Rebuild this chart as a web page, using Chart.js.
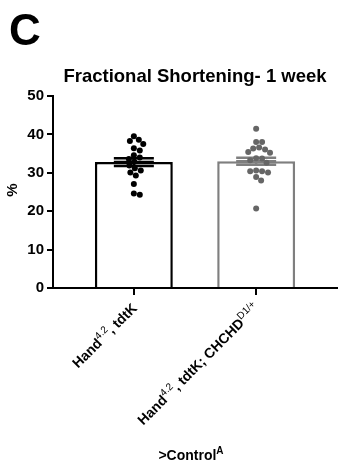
<!DOCTYPE html>
<html>
<head>
<meta charset="utf-8">
<script src="https://cdn.jsdelivr.net/npm/chart.js@4"></script>
<style>
  html, body { margin: 0; padding: 0; background: #fff; }
  canvas { display: block; }
</style>
</head>
<body>
<canvas id="c" width="341" height="467"></canvas>
<script>
// ---- data ----
const panelLetter = "C";
const chartTitle = "Fractional Shortening- 1 week";
const yAxisTitle = "%";
const xAxisTitle = ">Control^{A}";
const categories = ["Hand^{4.2}, tdtK", "Hand^{4.2}, tdtK; CHCHD^{D1/+}"];
const means = [32.8, 33.0];
const sems = [1.0, 0.9];
const group1Points = [39.5, 38.6, 38.3, 37.5, 36.4, 35.8, 34.6, 34.0, 33.6, 32.9, 31.9, 31.2, 30.6, 30.1, 29.3, 27.1, 24.6, 24.3];
const group2Points = [41.5, 38.0, 38.0, 36.6, 36.3, 36.1, 35.2, 35.4, 33.8, 33.7, 33.3, 32.6, 30.4, 30.1, 30.4, 30.6, 28.9, 28.0, 20.7];
const yTicks = [0, 10, 20, 30, 40, 50];

// ---- styles ----
const FONT = "'Liberation Sans', Arial, sans-serif";
const groupColors = ['#000000', '#7f7f7f'];
const dotColors = ['#000000', '#666666'];
const X_MIN = -0.661, X_MAX = 1.661;
const PX_X = 123.6, PX_Y = 192 / 50;

// simple beeswarm spread (pixel collision)
function swarm(values, center) {
  const D = 6.0;
  const placed = [];
  const order = values.map((v, i) => i).sort((a, b) => values[b] - values[a]);
  const out = new Array(values.length);
  for (const i of order) {
    const py = values[i] * PX_Y;
    let off = 0;
    for (let k = 0; k < 400; k++) {
      const cand = (k % 2 ? 1 : -1) * Math.ceil(k / 2) * 0.5;
      let ok = true;
      for (const p of placed) {
        const dx = p.x - cand, dy = p.y - py;
        if (dx * dx + dy * dy < D * D) { ok = false; break; }
      }
      if (ok) { off = cand; break; }
    }
    placed.push({ x: off, y: py });
    out[i] = { x: center + off / PX_X, y: values[i] };
  }
  return out;
}

function parseRich(s) {
  const segs = [];
  const re = /\^\{([^}]*)\}/g;
  let last = 0, m;
  while ((m = re.exec(s))) {
    if (m.index > last) segs.push({ t: s.slice(last, m.index), sup: false });
    segs.push({ t: m[1], sup: true });
    last = re.lastIndex;
  }
  if (last < s.length) segs.push({ t: s.slice(last), sup: false });
  return segs;
}

function drawRich(ctx, segs, x, y, align, mainFont, supFont, supRaise) {
  let total = 0;
  const widths = segs.map(sg => { ctx.font = sg.sup ? supFont : mainFont; const w = ctx.measureText(sg.t).width; total += w; return w; });
  let cx = align === 'right' ? x - total : (align === 'center' ? x - total / 2 : x);
  ctx.textAlign = 'left';
  ctx.textBaseline = 'alphabetic';
  segs.forEach((sg, i) => {
    ctx.font = sg.sup ? supFont : mainFont;
    ctx.fillText(sg.t, cx, sg.sup ? y - supRaise : y);
    cx += widths[i];
  });
}

const errorBarPlugin = {
  id: 'errorBars',
  afterDatasetDraw(chart, args) {
    if (args.index !== 0) return;
    const ctx = chart.ctx, xs = chart.scales.x, ys = chart.scales.y;
    ctx.save();
    ctx.lineWidth = 2.5;
    means.forEach((m, i) => {
      const x = xs.getPixelForValue(i);
      const yt = ys.getPixelForValue(m + sems[i]);
      const yb = ys.getPixelForValue(m - sems[i]);
      const ym = ys.getPixelForValue(m);
      ctx.strokeStyle = groupColors[i];
      ctx.beginPath();
      ctx.moveTo(x, yt); ctx.lineTo(x, yb);
      ctx.moveTo(x - 20, yt); ctx.lineTo(x + 20, yt);
      ctx.moveTo(x - 20, yb); ctx.lineTo(x + 20, yb);
      ctx.moveTo(x - 20, ym); ctx.lineTo(x + 20, ym);
      ctx.stroke();
    });
    ctx.restore();
  }
};

const textPlugin = {
  id: 'texts',
  afterDraw(chart) {
    const ctx = chart.ctx, xs = chart.scales.x, ys = chart.scales.y;
    ctx.save();
    ctx.fillStyle = '#000';
    // panel letter
    ctx.font = `bold 44px ${FONT}`;
    ctx.textAlign = 'left'; ctx.textBaseline = 'alphabetic';
    ctx.fillText(panelLetter, 9, 45);
    // title
    ctx.font = `bold 18.5px ${FONT}`;
    ctx.textAlign = 'center';
    ctx.fillText(chartTitle, 195, 82);
    // y title
    ctx.save();
    ctx.translate(17, 190);
    ctx.rotate(-Math.PI / 2);
    ctx.font = `bold 15px ${FONT}`;
    ctx.textAlign = 'center';
    ctx.fillText(yAxisTitle, 0, 0);
    ctx.restore();
    // category labels
    const axisY = ys.getPixelForValue(0);
    categories.forEach((lab, i) => {
      const tx = xs.getPixelForValue(i);
      ctx.save();
      ctx.translate(tx + 4, axisY + 21);
      ctx.rotate(-Math.PI / 4);
      drawRich(ctx, parseRich(lab), 0, 0, 'right', `bold 14px ${FONT}`, `10px ${FONT}`, 6);
      ctx.restore();
    });
    // x title
    drawRich(ctx, parseRich(xAxisTitle), 191, 460, 'center', `bold 14px ${FONT}`, `bold 10px ${FONT}`, 6);
    ctx.restore();
  }
};

new Chart(document.getElementById('c'), {
  type: 'bar',
  data: {
    datasets: [
      {
        type: 'bar',
        data: means.map((m, i) => ({ x: i, y: m })),
        backgroundColor: '#ffffff',
        borderColor: groupColors,
        borderWidth: 2.5,
        barPercentage: 0.637,
        categoryPercentage: 1,
        order: 2
      },
      {
        type: 'scatter',
        data: swarm(group1Points, 0),
        backgroundColor: dotColors[0],
        borderWidth: 0,
        pointRadius: 3,
        order: 1
      },
      {
        type: 'scatter',
        data: swarm(group2Points, 1),
        backgroundColor: dotColors[1],
        borderWidth: 0,
        pointRadius: 3,
        order: 1
      }
    ]
  },
  options: {
    responsive: false,
    animation: false,
    devicePixelRatio: 1,
    layout: { padding: { top: 96, right: 1, left: 0, bottom: 0 } },
    plugins: { legend: { display: false }, tooltip: { enabled: false }, title: { display: false } },
    scales: {
      x: {
        type: 'linear',
        offset: false,
        min: X_MIN, max: X_MAX,
        afterBuildTicks: s => { s.ticks = categories.map((c, i) => ({ value: i })); },
        afterFit: s => { s.height = 179; },
        ticks: { display: false },
        grid: { offset: false, drawOnChartArea: false, drawTicks: true, tickLength: 7, color: '#000', lineWidth: 2 },
        border: { display: true, color: '#000', width: 2 }
      },
      y: {
        min: 0, max: 50,
        afterBuildTicks: s => { s.ticks = yTicks.map(v => ({ value: v })); },
        afterFit: s => { s.width = 53; },
        ticks: { color: '#000', font: { family: FONT, size: 15, weight: 'bold' }, padding: 3 },
        grid: { drawOnChartArea: false, drawTicks: true, tickLength: 6, color: '#000', lineWidth: 2 },
        border: { display: true, color: '#000', width: 2 }
      }
    }
  },
  plugins: [errorBarPlugin, textPlugin]
});
</script>
</body>
</html>
